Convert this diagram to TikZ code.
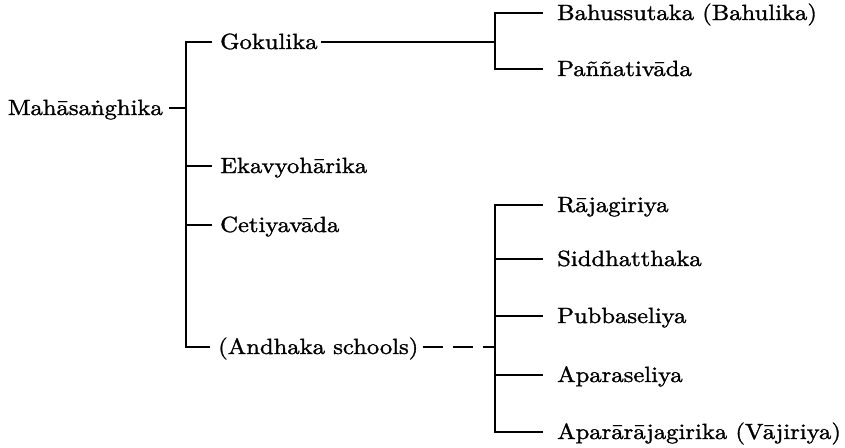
\documentclass[tikz,border=0pt]{standalone}
\usepackage{fontspec}
\newfontfamily\palifont{lmroman10-regular.otf}[FakeStretch=1.12, FakeBold=1.4]
\usetikzlibrary{positioning}
\tikzset{
    school/.style={ % Sets the look of each school name
        anchor=west,
        inner sep=0pt,
        text height=18pt, text depth=4pt,
        font=\palifont\fontsize{22}{26}\selectfont
    },
    branch/.style={ % Lines of the tree
        draw,
        line width=1.8pt
    },
}

\begin{document}
\begin{tikzpicture}[x=1pt, y=-1pt]
    \useasboundingbox (0,0) rectangle (845,447);
    % trunk
    \coordinate (tGok)  at (186,42);
    \coordinate (tRoot) at (186,108);
    \coordinate (tAnd)  at (186,347);
    \coordinate (tEka)  at (186,166);
    \coordinate (tCet)  at (186,225);
    % brackets on the right
    \coordinate (uTop) at (495,13);
    \coordinate (uMid) at (495,42);
    \coordinate (uBot) at (495,69);
    \coordinate (lTop) at (495,205);
    \coordinate (lSid) at (495,259);
    \coordinate (lPub) at (495,316);
    \coordinate (lMid) at (495,347);
    \coordinate (lApa) at (495,375);
    \coordinate (lBot) at (495,432);

    \node[school, anchor=east] (mah)  at (163,108) {Mahāsaṅghika};
    \node[school]              (gok)  at (220,42)  {Gokulika};
    \node[school]              (eka)  at (220,166) {Ekavyohārika};
    \node[school]              (cet)  at (220,225) {Cetiyavāda};
    \node[school]              (andh) at (218,347) {(Andhaka schools)};

    \node[school] (bah) at (557,13)  {Bahussutaka (Bahulika)};
    \node[school] (pan) at (557,69)  {Paññativāda};
    \node[school] (raj) at (557,205) {Rājagiriya};
    \node[school] (sid) at (557,259) {Siddhatthaka};
    \node[school] (pub) at (557,316) {Pubbaseliya};
    \node[school] (apa) at (557,375) {Aparaseliya};
    \node[school] (vaj) at (557,432) {Aparārājagirika (Vājiriya)};

    \draw[branch]
        ([xshift=6pt]mah.east) -- (tRoot)
        ([xshift=-8pt]gok.west) -- (tGok) -- (tAnd) -- ([xshift=-8pt]andh.west)
        (tEka) -- ([xshift=-8pt]eka.west)
        (tCet) -- ([xshift=-8pt]cet.west)
        ([xshift=3pt]gok.east) -- (uMid)
        ([xshift=-14pt]bah.west) -- (uTop) -- (uBot) -- ([xshift=-14pt]pan.west)
        ([xshift=-14pt]raj.west) -- (lTop) -- (lBot) -- ([xshift=-14pt]vaj.west)
        (lSid) -- ([xshift=-14pt]sid.west)
        (lPub) -- ([xshift=-14pt]pub.west)
        (lApa) -- ([xshift=-14pt]apa.west)
    ;
    \draw[branch, dash pattern=on 20pt off 10pt]
        ([xshift=4pt]andh.east) -- (lMid)
    ;
\end{tikzpicture}
\end{document}
